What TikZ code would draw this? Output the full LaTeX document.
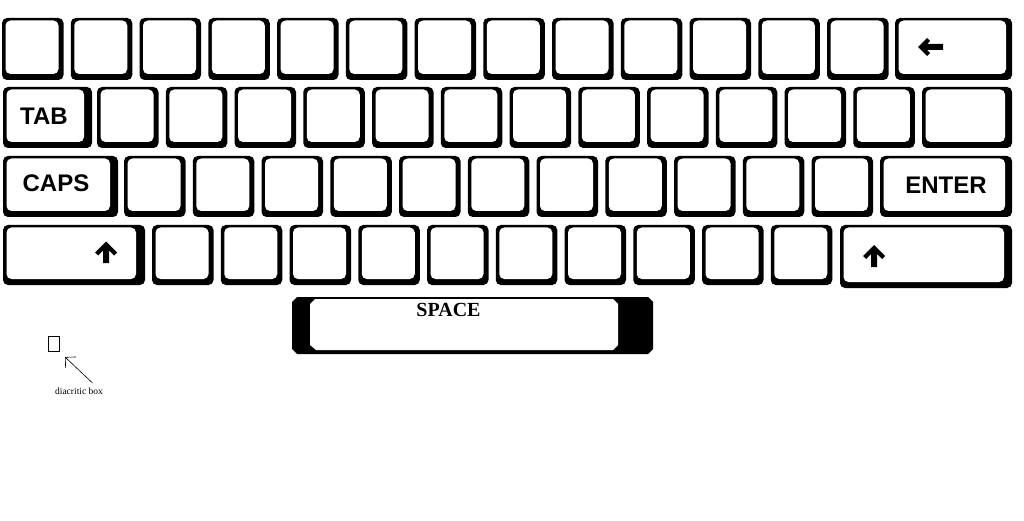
\documentclass[tikz,border=0pt]{standalone}
\usepackage{fontspec}
\setmainfont{Liberation Serif}
\newfontfamily\keyfont{Liberation Sans}
\usetikzlibrary{arrows.meta}
% #1 right inset, #2 x1, #3 y1, #4 x2, #5 y2
\newcommand\kbkey[5][5]{%
  \fill[black,rounded corners=5pt] (#2,#3) rectangle (#4,#5);
  \fill[white,rounded corners=5pt] ({#2+3.5},{#3+2.5}) rectangle ({#4-#1},{#5-6});
}
\tikzset{
  keylabel/.style={font=\keyfont\bfseries\fontsize{24}{24}\selectfont,inner sep=0pt},
  spacelabel/.style={font=\bfseries\fontsize{20}{20}\selectfont,inner sep=0pt},
  notelabel/.style={font=\fontsize{9.5}{10}\selectfont,inner sep=0pt},
  diabox/.style={draw,line width=0.6pt,minimum width=11pt,minimum height=15pt,inner sep=0pt},
  notearrow/.style={line width=0.6pt,-{Straight Barb[length=7.5pt,width=15pt,line width=0.6pt]}}
}
\begin{document}
\begin{tikzpicture}[x=1pt,y=-1pt]
\fill[white] (0,0) rectangle (1024,521);
\useasboundingbox (0,0) rectangle (1024,521);
% row 1
\foreach \i in {0,...,12} {
  \pgfmathsetmacro\xa{2+68.75*\i}
  \pgfmathsetmacro\xb{\xa+61.5}
  \kbkey{\xa}{18}{\xb}{80}
}
\kbkey[6]{895}{18}{1012}{80}
% row 2
\kbkey[8]{3}{87}{92}{148}
\foreach \i in {0,...,11} {
  \pgfmathsetmacro\xa{97+68.75*\i}
  \pgfmathsetmacro\xb{\xa+61.5}
  \kbkey{\xa}{87}{\xb}{148}
}
\kbkey[7]{922}{87}{1012}{148}
% row 3
\kbkey[8]{3}{156}{118}{217}
\foreach \i in {0,...,10} {
  \pgfmathsetmacro\xa{124+68.75*\i}
  \pgfmathsetmacro\xb{\xa+61.5}
  \kbkey{\xa}{156}{\xb}{217}
}
\kbkey[7]{880}{156}{1012}{217}
% row 4
\kbkey[9]{3}{225}{145}{285}
\foreach \i in {0,...,9} {
  \pgfmathsetmacro\xa{152+68.75*\i}
  \pgfmathsetmacro\xb{\xa+61.5}
  \kbkey{\xa}{225}{\xb}{285}
}
\kbkey[8]{840}{225}{1012}{288}
% space bar
\fill[black] (292,302) -- (297,297) -- (648,297) -- (653,302) -- (653,349) -- (648,354) -- (297,354) -- (292,349) -- cycle;
\fill[white] (310,304) -- (315,299) -- (613,299) -- (618,304) -- (618,345) -- (613,350) -- (316,350) -- (310,345) -- cycle;
% labels
\node[keylabel] (tab) at (44,116) {TAB};
\node[keylabel] (caps) at (56,183.5) {CAPS};
\node[keylabel] (enter) at (946,185) {ENTER};
\node[spacelabel] (space) at (448.5,309.5) {SPACE};
% backspace arrow
\fill[black,shift={(930,47)}] (-12,0) -- (-3,-9) -- (0,-6) -- (-3,-3) -- (13,-3) -- (13,3) -- (-3,3) -- (0,6) -- (-3,9) -- cycle;
% shift arrows
\fill[black,shift={(106,252.5)}] (0,-11) -- (11,0) -- (8,3) -- (3,-2) -- (3,10.5) -- (-3,10.5) -- (-3,-2) -- (-8,3) -- (-11,0) -- cycle;
\fill[black,shift={(874,256)}] (0,-11) -- (11,0) -- (8,3) -- (3,-2) -- (3,11) -- (-3,11) -- (-3,-2) -- (-8,3) -- (-11,0) -- cycle;
% diacritic box note
\node[diabox] (dbox) at (54,343.5) {};
\node[notelabel] (note) at (79,391) {diacritic box};
\coordinate (tail) at (92.5,383);
\coordinate (tip) at (65,357);
\draw[notearrow] (tail) -- (tip);
\end{tikzpicture}
\end{document}
